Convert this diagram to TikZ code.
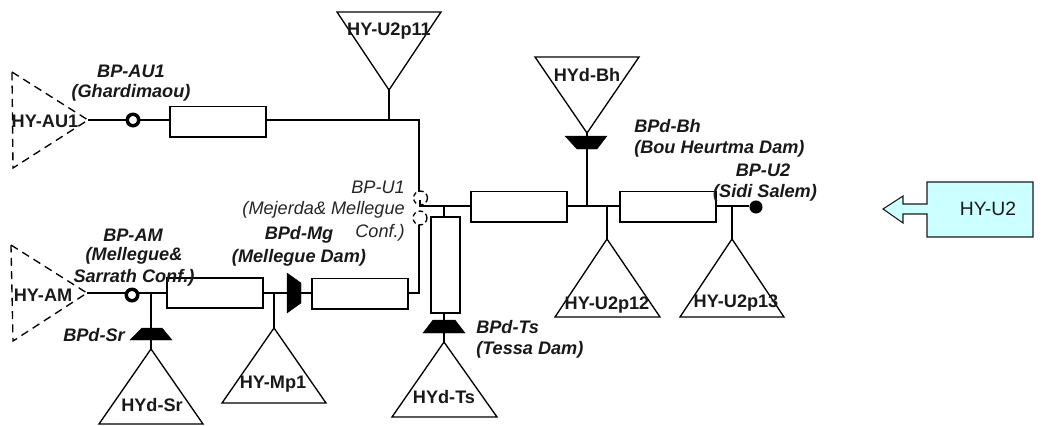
\documentclass[tikz,border=0pt]{standalone}
\usepackage{fontspec}
\setmainfont{Liberation Sans}
\usetikzlibrary{calc}
\definecolor{lightcy}{HTML}{CCFFFF}
\definecolor{dk}{HTML}{1A1A1A}
\tikzset{
  x=0.75pt,y=-0.75pt,
  wire/.style={draw=black,line width=1pt},
  rectb/.style={draw=black,fill=white,line width=1.3pt,inner sep=0pt,outer sep=0pt,minimum width=72pt,minimum height=22.7pt},
  rectv/.style={draw=black,fill=white,line width=1.3pt,inner sep=0pt,outer sep=0pt,minimum width=21.7pt,minimum height=71.5pt},
  tri/.style={draw=black,line width=1pt,line join=miter},
  dtri/.style={draw=black,line width=1pt,dash pattern=on 6pt off 4pt},
  dam/.style={fill=black,draw=black,line width=.3pt},
  lb/.style={font=\fontsize{13.6}{15}\selectfont\bfseries\itshape,inner sep=0pt,text=black!90},
  li/.style={font=\fontsize{13.6}{15}\selectfont\itshape,inner sep=0pt,text=black!85},
  tn/.style={font=\fontsize{13.6}{15}\selectfont\bfseries,inner sep=0pt,text=black!90},
  ring/.style={circle,draw=black,fill=white,line width=2.6pt,inner sep=0pt,minimum size=8.6pt},
  dot/.style={circle,fill=black,inner sep=0pt,minimum size=9.8pt},
  dcirc/.style={circle,draw=black,dash pattern=on 3.4pt off 2.4pt,line width=1pt,inner sep=0pt,minimum size=10.4pt},
}
\begin{document}
\begin{tikzpicture}
\useasboundingbox (0,0) rectangle (1048,425);
% junction coordinates
\coordinate (tAU) at (88,120);
\coordinate (tAM) at (87,293);
\coordinate (tU11) at (389,90);
\coordinate (jU11) at (389,120);
\coordinate (cAU) at (419,120);
\coordinate (eU1a) at (419,192);
\coordinate (eU1b) at (419,225);
\coordinate (cU1) at (419,293);
\coordinate (jU1a) at (420,200);
\coordinate (jU1b) at (420,206);
\coordinate (jV) at (444,206);
\coordinate (jBh) at (587,206);
\coordinate (j12) at (607,206);
\coordinate (j13) at (732,206);
\coordinate (jSr) at (151,293);
\coordinate (jMp) at (274,293);
\coordinate (tSr) at (151,349);
\coordinate (tMp) at (274,328);
\coordinate (tTs) at (444,342);
\coordinate (tBh) at (587,133);
\coordinate (t12) at (607,239);
\coordinate (t13) at (732,239);
\coordinate (dSrT) at (151,328);
\coordinate (dSrB) at (151,340);
\coordinate (dTsT) at (444,320);
\coordinate (dTsB) at (444,333);
\coordinate (dBhT) at (587,136);
\coordinate (dBhB) at (587,149);
\coordinate (dMgL) at (287,293);
\coordinate (dMgR) at (301,293);
% triangles
\draw[dtri] (12,72) -- (tAU) -- (13,168) -- cycle;
\draw[dtri] (11,245) -- (tAM) -- (13,341) -- cycle;
\draw[tri] (337,12) -- (441,12) -- (tU11) -- cycle;
\draw[tri] (535,57) -- (639,57) -- (tBh) -- cycle;
\draw[tri] (t12) -- (555,317) -- (660,317) -- cycle;
\draw[tri] (t13) -- (680,317) -- (784,317) -- cycle;
\draw[tri] (tSr) -- (99,424) -- (203,424) -- cycle;
\draw[tri] (tMp) -- (222,403) -- (326,403) -- cycle;
\draw[tri] (tTs) -- (392,417) -- (497,417) -- cycle;
% boxes and symbols
\node[rectb] (rAU) at (218,121.5) {};
\node[rectb] (rAM) at (215,293) {};
\node[rectb] (rMg) at (360,293.5) {};
\node[rectb] (rU1) at (519,206.5) {};
\node[rectb] (rU2) at (668,206.5) {};
\node[rectv] (rTs) at (445.5,265) {};
\node[ring] (nAU) at (133,120) {};
\node[ring] (nAM) at (132,295) {};
\node[dot] (nU2) at (756,207) {};
\node[dcirc] (cA) at (420.5,198) {};
\node[dcirc] (cB) at (420,218) {};
% dams
\draw[dam] (142,328) -- (162,328) -- (172,340) -- (130,340) -- cycle;
\draw[dam] (433,320) -- (455,320) -- (465,333) -- (423,333) -- cycle;
\draw[dam] (565,136) -- (607,136) -- (597,149) -- (577,149) -- cycle;
\draw[dam] (287,273) -- (301,283) -- (301,303) -- (287,313) -- cycle;
% connectors
\draw[wire] (tAU) -- (nAU.west |- tAU);
\draw[wire] (nAU.east |- tAU) -- (rAU.west |- tAU);
\draw[wire] (rAU.east |- jU11) -- (jU11) -- (cAU) -- (eU1a);
\draw[wire] (tU11) -- (jU11);
\draw[wire] (tAM) -- (nAM.west |- tAM);
\draw[wire] (nAM.east |- tAM) -- (rAM.west);
\draw[wire] (rAM.east) -- (dMgL);
\draw[wire] (dMgR) -- (rMg.west |- dMgR);
\draw[wire] (rMg.east |- cU1) -- (cU1) -- (eU1b);
\draw[wire] (jU1a) -- (jU1b) -- (rU1.west |- jU1b);
\draw[wire] (jV) -- (rTs.north -| jV);
\draw[wire] (rU1.east |- jBh) -- (rU2.west |- jBh);
\draw[wire] (rU2.east |- jBh) -- (nU2.west |- jBh);
\draw[wire] (dBhB) -- (jBh);
\draw[wire] (tBh) -- (dBhT);
\draw[wire] (j12) -- (t12);
\draw[wire] (j13) -- (t13);
\draw[wire] (jSr) -- (dSrT);
\draw[wire] (dSrB) -- (tSr);
\draw[wire] (jMp) -- (tMp);
\draw[wire] (rTs.south -| jV) -- (dTsT);
\draw[wire] (dTsB) -- (tTs);
% HY-U2 callout
\draw[draw=dk,fill=lightcy,line width=.8pt,line join=miter] (927,182) -- (1033,182) -- (1033,237) -- (927,237) -- (927,214) -- (903,214) -- (903,223) -- (883,209) -- (903,196) -- (903,204) -- (927,204) -- cycle;
\node[font=\fontsize{14.5}{16}\selectfont,inner sep=0pt,text=dk] (lU2) at (988,209) {HY-U2};
% texts
\node[lb] (l1) at (131,71) {BP-AU1};
\node[lb] (l2) at (131,93) {(Ghardimaou)};
\node[tn] (l3) at (45,121) {HY-AU1};
\node[tn] (l4) at (389,31) {HY-U2p11};
\node[tn] (l5) at (587,75) {HYd-Bh};
\node[lb,anchor=west] (l6) at (634,126) {BPd-Bh};
\node[lb,anchor=west] (l7) at (634,149) {(Bou Heurtma Dam)};
\node[lb] (l8) at (763,170) {BP-U2};
\node[lb] (l9) at (765,193) {(Sidi Salem)};
\node[li,anchor=east] (l10) at (405,187) {BP-U1};
\node[li,anchor=east] (l11) at (405,210) {(Mejerda\& Mellegue};
\node[li,anchor=east] (l12) at (405,233) {Conf.)};
\node[lb] (l13) at (133,235) {BP-AM};
\node[lb] (l14) at (134,256) {(Mellegue\&};
\node[lb] (l15) at (134,278) {Sarrath Conf.)};
\node[lb] (l16) at (299,235) {BPd-Mg};
\node[lb] (l17) at (299,258) {(Mellegue Dam)};
\node[lb,anchor=east] (l18) at (125,335) {BPd-Sr};
\node[tn] (l19) at (43,295) {HY-AM};
\node[tn] (l20) at (152,405) {HYd-Sr};
\node[tn] (l21) at (273,384) {HY-Mp1};
\node[lb,anchor=west] (l22) at (476,327) {BPd-Ts};
\node[lb,anchor=west] (l23) at (476,350) {(Tessa Dam)};
\node[tn] (l24) at (444,397) {HYd-Ts};
\node[tn] (l25) at (607,305) {HY-U2p12};
\node[tn] (l26) at (736,303) {HY-U2p13};
\end{tikzpicture}
\end{document}
